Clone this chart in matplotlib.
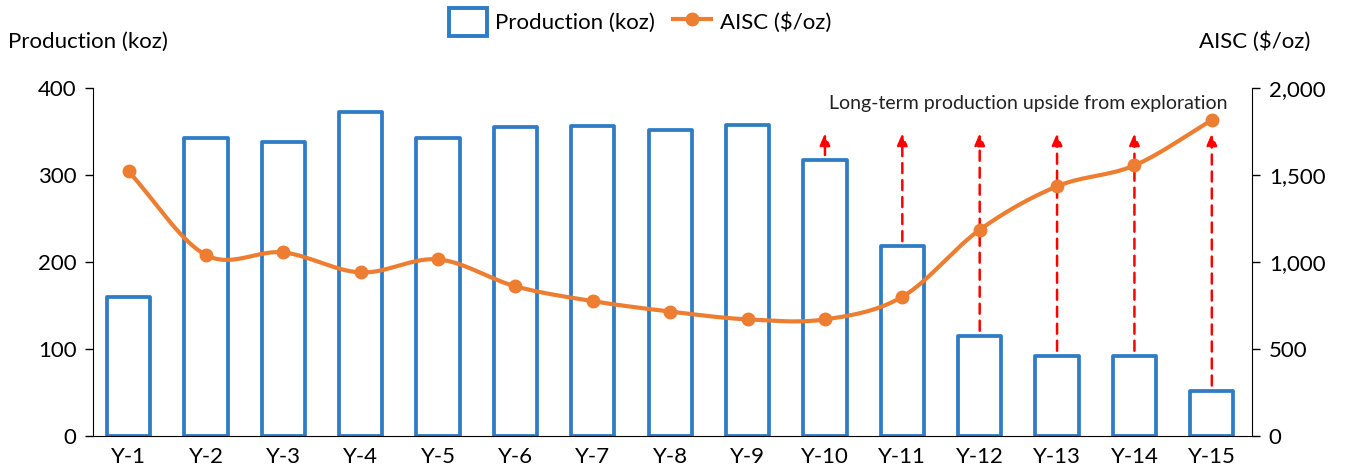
import numpy as np
import matplotlib
matplotlib.use("Agg")
import matplotlib.pyplot as plt
from matplotlib.patches import Patch
from matplotlib.lines import Line2D

plt.rcParams['font.family'] = ['Lato', 'DejaVu Sans']

years = [f"Y-{i}" for i in range(1, 16)]
production_koz = [160, 342, 338, 372, 342, 355, 356, 352, 357, 317, 218, 115, 92, 92, 52]
aisc_usd_oz = [1520, 1040, 1055, 940, 1015, 860, 775, 715, 670, 670, 800, 1185, 1435, 1555, 1815]
upside_years = ["Y-10", "Y-11", "Y-12", "Y-13", "Y-14", "Y-15"]
upside_target_koz = 348

BLUE = "#2E7BC6"
ORANGE = "#ED7D31"
RED = "#FF0000"
FS = 16


def catmull_rom(x, y, n=30):
    """Smooth curve through the points (Excel-style smoothed line)."""
    x = np.asarray(x, float)
    y = np.asarray(y, float)
    px = np.concatenate([[2 * x[0] - x[1]], x, [2 * x[-1] - x[-2]]])
    py = np.concatenate([[2 * y[0] - y[1]], y, [2 * y[-1] - y[-2]]])
    xs, ys = [], []
    t = np.linspace(0, 1, n, endpoint=False)
    for i in range(1, len(px) - 2):
        for p, out in ((px, xs), (py, ys)):
            p0, p1, p2, p3 = p[i - 1], p[i], p[i + 1], p[i + 2]
            out.extend(0.5 * ((2 * p1) + (-p0 + p2) * t
                              + (2 * p0 - 5 * p1 + 4 * p2 - p3) * t ** 2
                              + (-p0 + 3 * p1 - 3 * p2 + p3) * t ** 3))
    xs.append(x[-1])
    ys.append(y[-1])
    return np.array(xs), np.array(ys)


fig = plt.figure(figsize=(13.46, 4.65), dpi=100)
ax = fig.add_axes([0.0691, 0.0624, 0.8611, 0.7484])
ax2 = ax.twinx()

x = np.arange(len(years))
ax.bar(x, production_koz, width=0.56, facecolor="white", edgecolor=BLUE,
       linewidth=2.7, zorder=2, joinstyle="round")

ax.set_xlim(-0.46, 14.52)
ax.set_ylim(0, 400)
ax.set_yticks([0, 100, 200, 300, 400])
ax.set_xticks(x)
ax.set_xticklabels(years)
ax.tick_params(axis='x', length=0, labelsize=FS, pad=8)
ax.tick_params(axis='y', direction='out', length=6, width=1, labelsize=FS, pad=6)
for s in ("top", "right"):
    ax.spines[s].set_visible(False)

# Exploration upside arrows
for yr in upside_years:
    i = years.index(yr)
    start = production_koz[i] + 6
    ax.annotate("", xy=(i, upside_target_koz), xytext=(i, start),
                arrowprops=dict(arrowstyle="-|>,head_length=0.7,head_width=0.3",
                                color=RED, lw=1.8, linestyle=(0, (4, 2.8)),
                                shrinkA=0, shrinkB=0),
                zorder=3)

ax.text(14.2, 382, "Long-term production upside from exploration",
        ha="right", va="center", fontsize=14, color="#222222")

# AISC line on secondary axis
sx, sy = catmull_rom(x, aisc_usd_oz)
ax2.plot(sx, sy, color=ORANGE, lw=3, zorder=4, solid_capstyle="round")
ax2.plot(x, aisc_usd_oz, "o", color=ORANGE, ms=9, zorder=5)
ax2.set_ylim(0, 2000)
ax2.set_yticks([0, 500, 1000, 1500, 2000])
ax2.set_yticklabels(["0", "500", "1,000", "1,500", "2,000"])
ax2.tick_params(axis='y', direction='out', length=6, width=1, labelsize=FS, pad=6)
for s in ("top", "left", "bottom"):
    ax2.spines[s].set_visible(False)

fig.text(8 / 1346, 1 - 42 / 465, "Production (koz)", ha="left", va="center", fontsize=FS)
fig.text(1310 / 1346, 1 - 42 / 465, "AISC ($/oz)", ha="right", va="center", fontsize=FS)

handles = [Patch(facecolor="white", edgecolor=BLUE, linewidth=2.8),
           Line2D([0], [0], color=ORANGE, lw=3, marker="o", ms=9)]
fig.legend(handles, ["Production (koz)", "AISC ($/oz)"], loc="center",
           bbox_to_anchor=(640 / 1346, 1 - 22 / 465), ncol=2, frameon=False,
           fontsize=FS, handlelength=1.7, handleheight=1.5, columnspacing=0.8,
           handletextpad=0.4)

fig.savefig("out.png", dpi=100)
